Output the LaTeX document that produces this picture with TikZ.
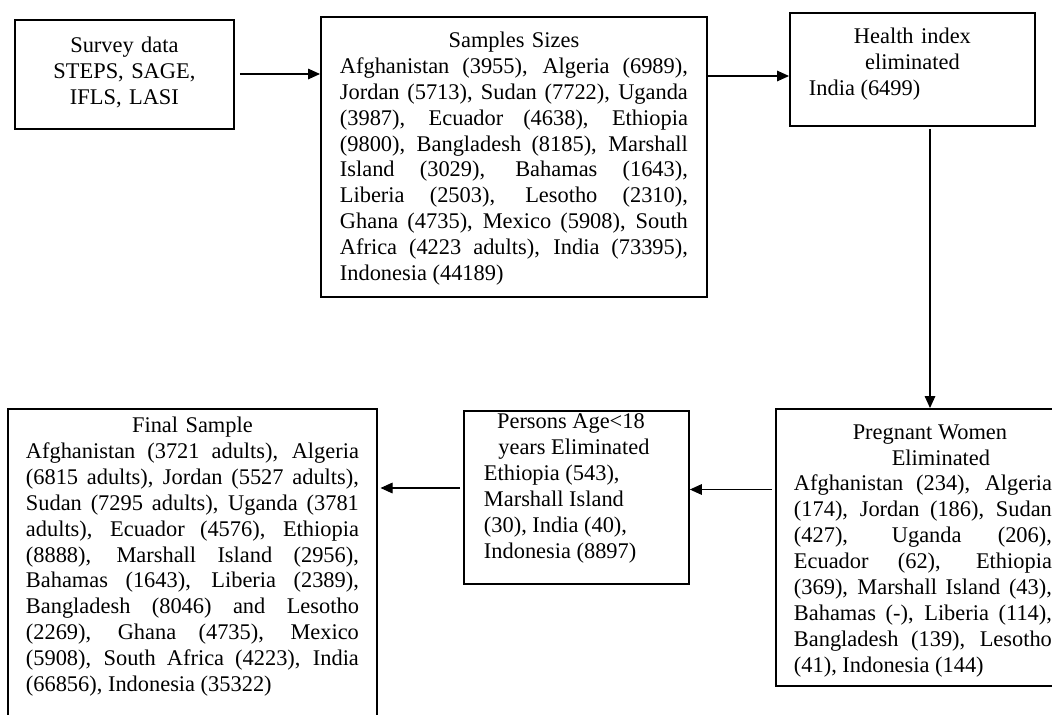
\documentclass[tikz,border=0pt]{standalone}
\usepackage{fontspec}
\setmainfont{Liberation Serif}
\usetikzlibrary{arrows.meta}
\newcommand\natsp{\spaceskip=\fontdimen2\font\xspaceskip=\fontdimen2\font\relax}
\newcommand\jline[1]{\makebox[\hsize][s]{\spaceskip=\fontdimen2\font plus 1fil\relax\xspaceskip=\spaceskip #1}}
\newcommand\lline[1]{\makebox[\hsize][l]{\natsp #1}}
\newcommand\cpos[2]{\makebox[\hsize][l]{\hspace*{#1}\makebox[0pt][c]{\natsp #2}}}
\begin{document}
\begin{tikzpicture}[x=0.75pt,y=-0.75pt,
  flowbox/.style={draw, line width=1.4pt, anchor=north west, align=center, inner ysep=0pt,
    font=\fontsize{16.8pt}{19.4pt}\selectfont},
  arr/.style={line width=0.8pt, -{Triangle[length=9pt,width=8pt]}}]
\useasboundingbox (0,0) rectangle (1052,714);
\clip (0,0) rectangle (1052,714);
\fill[white] (0,0) rectangle (1052,714);

\node[flowbox, inner xsep=0pt, text width=164.25pt, text height=24.4pt, text depth=57.4pt]
  (survey) at (14,19) {Survey data\\STEPS, SAGE,\\IFLS, LASI};

\node[flowbox, inner xsep=14.25pt, text width=261pt, text height=23pt, text depth=187pt]
  (sizes) at (320,16) {Samples Sizes\\
  \jline{Afghanistan (3955), Algeria (6989),}\\
  \jline{Jordan (5713), Sudan (7722), Uganda}\\
  \jline{(3987), Ecuador (4638), Ethiopia}\\
  \jline{(9800), Bangladesh (8185), Marshall}\\
  \jline{Island (3029), Bahamas (1643),}\\
  \jline{Liberia (2503), Lesotho (2310),}\\
  \jline{Ghana (4735), Mexico (5908), South}\\
  \jline{Africa (4223 adults), India (73395),}\\
  \lline{Indonesia (44189)}};

\node[flowbox, inner xsep=14.25pt, text width=155.25pt, text height=23pt, text depth=61.7pt]
  (health) at (789,12) {Health index\\eliminated\\\lline{India (6499)}};

\node[flowbox, inner xsep=13.5pt, text width=193.5pt, text height=22.7pt, text depth=185pt]
  (preg) at (775,408) {\cpos{102pt}{Pregnant Women}\\
  \cpos{110.25pt}{Eliminated}\\
  \jline{Afghanistan (234), Algeria}\\
  \jline{(174), Jordan (186), Sudan}\\
  \jline{(427), Uganda (206),}\\
  \jline{Ecuador (62), Ethiopia}\\
  \jline{(369), Marshall Island (43),}\\
  \jline{Bahamas (-), Liberia (114),}\\
  \jline{Bangladesh (139), Lesotho}\\
  \lline{(41), Indonesia (144)}};

\node[flowbox, inner xsep=15pt, text width=138.75pt, text height=13.5pt, text depth=116.25pt]
  (age) at (463,410) {\cpos{65.25pt}{Persons Age<18}\\
  \cpos{67.5pt}{years Eliminated}\\
  \lline{Ethiopia (543),}\\
  \lline{Marshall Island}\\
  \lline{(30), India (40),}\\
  \lline{Indonesia (8897)}};

\node[flowbox, inner xsep=13.5pt, text width=249.75pt, text height=17.8pt, text depth=231pt]
  (final) at (7,408) {Final Sample\\
  \jline{Afghanistan (3721 adults), Algeria}\\
  \jline{(6815 adults), Jordan (5527 adults),}\\
  \jline{Sudan (7295 adults), Uganda (3781}\\
  \jline{adults), Ecuador (4576), Ethiopia}\\
  \jline{(8888), Marshall Island (2956),}\\
  \jline{Bahamas (1643), Liberia (2389),}\\
  \jline{Bangladesh (8046) and Lesotho}\\
  \jline{(2269), Ghana (4735), Mexico}\\
  \jline{(5908), South Africa (4223), India}\\
  \lline{(66856), Indonesia (35322)}};

\coordinate (ya) at (0,74);
\coordinate (yb) at (0,76);
\coordinate (xc) at (930,0);
\coordinate (yd) at (0,489.5);
\coordinate (ye) at (0,488);
\draw[arr, shorten <=3.75pt] (survey.east |- ya) -- (sizes.west |- ya);
\draw[arr] (sizes.east |- yb) -- (health.west |- yb);
\draw[arr, shorten <=1.5pt] (health.south -| xc) -- (preg.north -| xc);
\draw[arr, shorten <=2.25pt] (preg.west |- yd) -- (age.east |- yd);
\draw[arr, shorten <=2.25pt, shorten >=2pt] (age.west |- ye) -- (final.east |- ye);
\end{tikzpicture}
\end{document}
